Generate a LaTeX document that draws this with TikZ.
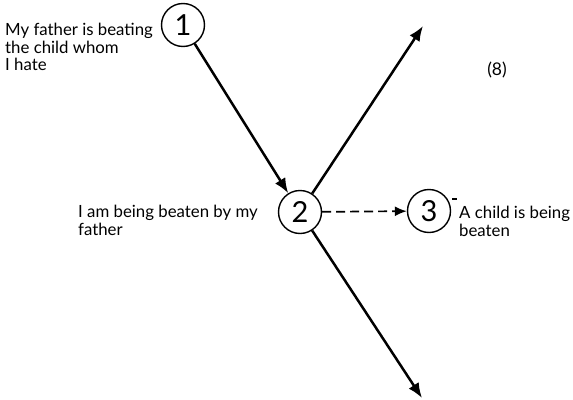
\documentclass[tikz,border=0pt]{standalone}
\usepackage{fontspec}
\setmainfont{Lato}
\usetikzlibrary{arrows.meta}
\begin{document}
\begin{tikzpicture}[x=1pt,y=-1pt,
  state/.style={circle,draw,line width=1.4pt,minimum size=43pt,inner sep=0pt,
    font=\fontsize{29}{29}\selectfont},
  label/.style={align=left,inner sep=0pt,anchor=north west,
    font=\fontsize{16.8}{17.5}\selectfont},
  thick arrow/.style={line width=2.5pt,-{Latex[length=15pt,width=12pt]}},
  dash arrow/.style={line width=1.7pt,dash pattern=on 9pt off 5pt,
    -{Latex[length=12pt,width=10pt]}}]
  \useasboundingbox (0,0) rectangle (573,399);

  % the three states
  \node[state] (s1) at (183,25) {1};
  \node[state] (s2) at (300,212) {2};
  \node[state] (s3) at (429,211) {3};

  % free ends of the two outgoing arrows
  \coordinate (up) at (423,26);
  \coordinate (down) at (422,398);

  % connectors
  \draw[thick arrow] (s1) -- (s2);
  \draw[thick arrow] (s2) -- (up);
  \draw[thick arrow] (s2) -- (down);
  \draw[dash arrow] (s2) -- (s3);

  % small tick beside state 3
  \coordinate (tickA) at (452,199);
  \coordinate (tickB) at (457,199);
  \draw[line width=1.2pt] (tickA) -- (tickB);

  % texts
  \node[label] (t1) at (5,23) {My father is beating\\the child whom\\I hate};
  \node[label] (t2) at (78,205) {I am being beaten by my\\father};
  \node[label] (t3) at (459,206) {A child is being\\beaten};
  \node[inner sep=0pt,font=\fontsize{17.5}{17.5}\selectfont] (eq) at (497,70) {(8)};
\end{tikzpicture}
\end{document}
